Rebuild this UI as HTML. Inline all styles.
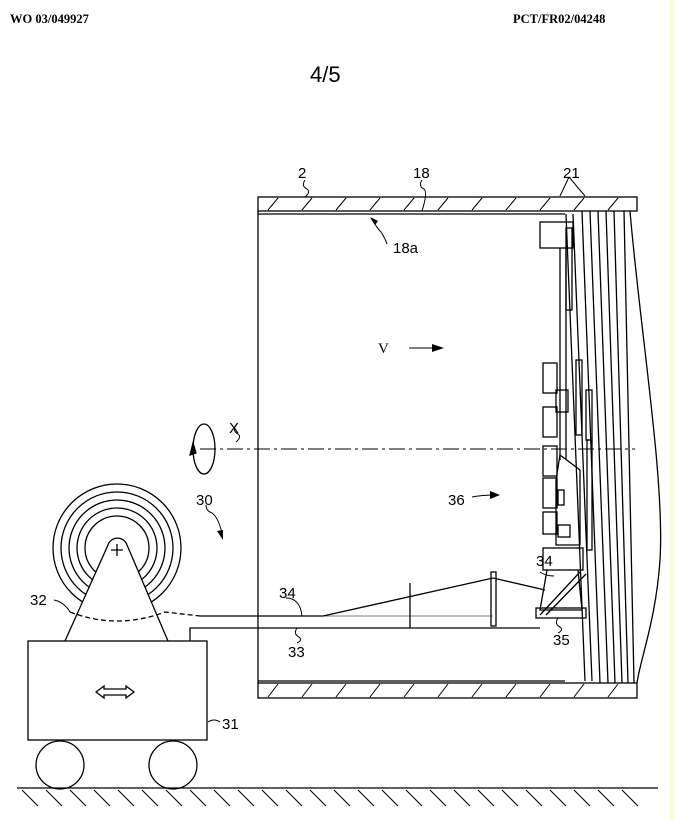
<!DOCTYPE html>
<html><head><meta charset="utf-8"><style>
html,body{margin:0;padding:0;background:#fff;}
svg{display:block}
text{font-family:"Liberation Sans",sans-serif;fill:#000}
</style></head><body>
<svg width="675" height="820" viewBox="0 0 675 820" xmlns="http://www.w3.org/2000/svg">
<rect x="669" y="0" width="6" height="820" fill="#fdfbd8"/>
<text x="10" y="23" font-family="Liberation Serif" font-weight="bold" font-size="12.5" style="font-family:'Liberation Serif'">WO 03/049927</text>
<text x="513" y="23" font-weight="bold" font-size="12.5" style="font-family:'Liberation Serif'">PCT/FR02/04248</text>
<text x="310" y="82" font-size="22">4/5</text>
<g stroke="#000" fill="none" stroke-width="1.3">
<!-- top wall -->
<rect x="258" y="197" width="379" height="14"/>
<line x1="258" y1="214" x2="565" y2="214"/>
<!-- bottom wall -->
<rect x="258" y="683" width="379" height="15"/>
<line x1="258" y1="681" x2="565" y2="681"/>
<!-- hatch -->
<g stroke-width="1">
<path d="M268 210 l10 -12 M302 210 l10 -12 M336 210 l10 -12 M370 210 l10 -12 M404 210 l10 -12 M438 210 l10 -12 M472 210 l10 -12 M506 210 l10 -12 M540 210 l10 -12 M574 210 l10 -12 M608 210 l10 -12"/>
<path d="M268 697 l10 -13 M302 697 l10 -13 M336 697 l10 -13 M370 697 l10 -13 M404 697 l10 -13 M438 697 l10 -13 M472 697 l10 -13 M506 697 l10 -13 M540 697 l10 -13 M574 697 l10 -13 M608 697 l10 -13"/>
</g>
<line x1="258" y1="211" x2="258" y2="683"/>
<!-- right plates -->
<path d="M566 214 L585 681 M573 214 L592 681 M582 211 L600 683 M590 211 L608 683 M598 211 L615 683 M606 211 L622 683 M614 211 L628 683 M624 211 L634 683"/>
<path d="M630 211 C640 330 665 480 660 560 C656 620 640 660 637 683"/>
<!-- box at top -->
<rect x="540" y="222" width="33" height="26"/>
<rect x="566" y="228" width="6" height="82"/>
<line x1="560" y1="248" x2="560" y2="460"/>
<line x1="566" y1="248" x2="566" y2="460"/>
<!-- side blocks -->
<rect x="543" y="363" width="14" height="30"/><rect x="543" y="407" width="14" height="30"/>
<rect x="543" y="446" width="14" height="30"/><rect x="543" y="478" width="14" height="30"/>
<rect x="543" y="512" width="14" height="22"/>
<rect x="556" y="390" width="12" height="22"/>
<rect x="576" y="360" width="6" height="75"/><rect x="586" y="390" width="6" height="50"/>
<rect x="587" y="440" width="5" height="110"/>
<path d="M560 455 L556 480 L556 545 L580 545 L580 470 Z"/>
<rect x="558" y="490" width="6" height="15"/><rect x="558" y="525" width="12" height="12"/>
<rect x="543" y="548" width="40" height="22"/>
<path d="M547 570 L540 610 L582 610 L578 570"/>
<rect x="536" y="608" width="50" height="10"/>
<path d="M540 615 L580 572 M546 615 L586 574"/>
<!-- 34 lines -->
<line x1="200" y1="616" x2="323" y2="616"/>
<path d="M323 616 L493 578 L545 590"/>
<path d="M323 616 L493 616" stroke-width="0.6"/>
<rect x="491" y="572" width="5" height="54"/>
<line x1="410" y1="583" x2="410" y2="628"/>
<!-- bar 33 -->
<path d="M190 641 L190 628 L540 628"/>
<!-- axis -->
<line x1="200" y1="449" x2="635" y2="449" stroke-dasharray="16 4 3 4" stroke-width="1"/>
<ellipse cx="204" cy="449" rx="11" ry="25"/>
<path d="M193 443 l-3 12 l6 -2 z" fill="#000"/>
<!-- spool -->
<circle cx="117" cy="548" r="64"/><circle cx="117" cy="548" r="56"/>
<circle cx="117" cy="548" r="48"/><circle cx="117" cy="548" r="40"/><circle cx="117" cy="548" r="32"/>
<path d="M65 641 L108 545 A10 10 0 0 1 127 545 L168 641" fill="#fff"/>
<path d="M111 550 h12 M117 544 v12"/>
<path d="M70 612 Q117 630 165 612 L200 616" stroke-dasharray="5 3"/>
<!-- cart -->
<rect x="28" y="641" width="179" height="99" fill="#fff"/>
<path d="M96 692 l8 -6 v3 h22 v-3 l8 6 l-8 6 v-3 h-22 v3 z"/>
<circle cx="60" cy="765" r="24"/><circle cx="173" cy="765" r="24"/>
<line x1="17" y1="788" x2="658" y2="788"/>
<path d="M22 790 l16 16 M46 790 l16 16 M70 790 l16 16 M94 790 l16 16 M118 790 l16 16 M142 790 l16 16 M166 790 l16 16 M190 790 l16 16 M214 790 l16 16 M238 790 l16 16 M262 790 l16 16 M286 790 l16 16 M310 790 l16 16 M334 790 l16 16 M358 790 l16 16 M382 790 l16 16 M406 790 l16 16 M430 790 l16 16 M454 790 l16 16 M478 790 l16 16 M502 790 l16 16 M526 790 l16 16 M550 790 l16 16 M574 790 l16 16 M598 790 l16 16 M622 790 l16 16" stroke-width="1"/>
<!-- leader lines -->
<g stroke-width="1">
<path d="M305 180 q-4 6 2 9 q4 3 -2 8"/>
<path d="M422 180 q-4 6 2 9 q4 3 -2 22"/>
<path d="M371 218 q6 10 10 14 q4 6 6 12"/>
<path d="M569 177 L560 196 M569 177 L585 196"/>
<path d="M236 425 q-4 6 2 9 q4 3 -2 8"/>
<path d="M206 505 q0 6 6 8 q6 4 10 20"/>
<path d="M54 600 q10 2 16 12"/>
<path d="M286 598 q14 0 16 18"/>
<path d="M297 628 q-4 6 2 9 q4 3 -2 6"/>
<path d="M208 722 q6 -4 12 0"/>
<path d="M472 497 q10 -2 24 -2"/>
<path d="M540 572 q6 4 14 4"/>
<path d="M558 618 q-4 6 2 9 q4 3 -2 6"/>
<path d="M409 348 h24"/>
</g>
</g>
<g fill="#000">
<path d="M444 348 l-12 -4 v8 z"/>
<path d="M500 495 l-10 -4 l0 8 z"/>
<path d="M223 540 l-6 -9 l6 -1 z"/>
<path d="M370 217 l5 8 l3 -4 z"/>
</g>
<text x="298" y="178" font-size="15">2</text>
<text x="413" y="178" font-size="15">18</text>
<text x="563" y="178" font-size="15">21</text>
<text x="393" y="253" font-size="15">18a</text>
<text x="378" y="353" font-size="15" style="font-family:'Liberation Serif'">V</text>
<text x="229" y="433" font-size="15">X</text>
<text x="196" y="505" font-size="15">30</text>
<text x="448" y="505" font-size="15">36</text>
<text x="536" y="566" font-size="15">34</text>
<text x="30" y="605" font-size="15">32</text>
<text x="279" y="598" font-size="15">34</text>
<text x="288" y="657" font-size="15">33</text>
<text x="553" y="645" font-size="15">35</text>
<text x="222" y="729" font-size="15">31</text>
</svg>
</body></html>
